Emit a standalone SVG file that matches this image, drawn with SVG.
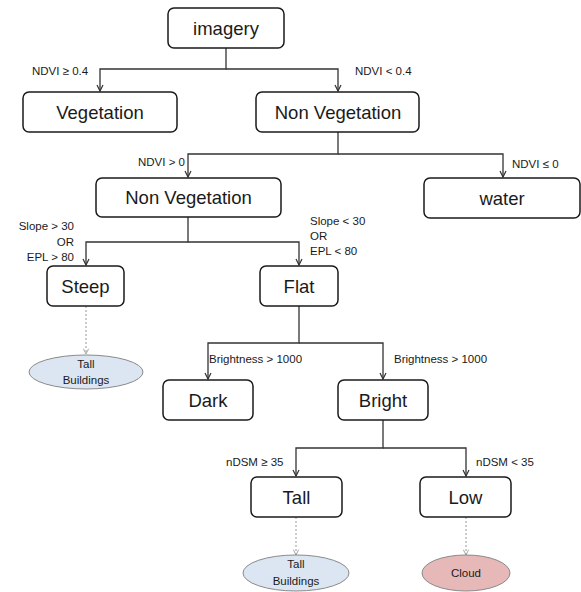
<svg xmlns="http://www.w3.org/2000/svg" width="581" height="592" viewBox="0 0 581 592">
<style>
.box{fill:#fff;stroke:#1a1a1a;stroke-width:1.5}
.bt{font-family:"Liberation Sans",Arial,sans-serif;font-size:18.5px;fill:#1a1a1a;text-anchor:middle}
.lb{font-family:"Liberation Sans",Arial,sans-serif;font-size:11.5px;fill:#1a1a1a}
.et{font-family:"Liberation Sans",Arial,sans-serif;font-size:11.5px;fill:#1a1a1a;text-anchor:middle}
.c{fill:none;stroke:#333;stroke-width:1.3}
.d{fill:none;stroke:#999;stroke-width:1;stroke-dasharray:2,2}
.ell{stroke:#8a8a8a;stroke-width:1}
</style>
<defs>
<marker id="a" viewBox="0 0 8 8" refX="7" refY="4" markerWidth="8" markerHeight="8" markerUnits="userSpaceOnUse" orient="auto">
<path d="M1,1 L7,4 L1,7" fill="none" stroke="#333" stroke-width="1.2"/>
</marker>
<marker id="ag" viewBox="0 0 8 8" refX="7" refY="4" markerWidth="7" markerHeight="7" markerUnits="userSpaceOnUse" orient="auto">
<path d="M1,1 L7,4 L1,7" fill="none" stroke="#999" stroke-width="1"/>
</marker>
</defs>
<g id="connectors">
<path class="c" d="M226,48 V69 H100 V91" marker-end="url(#a)"/>
<path class="c" d="M226,69 H338 V91" marker-end="url(#a)"/>
<path class="c" d="M338,132 V154 H188 V177" marker-end="url(#a)"/>
<path class="c" d="M338,154 H503 V177" marker-end="url(#a)"/>
<path class="c" d="M188,217 V242 H86 V265" marker-end="url(#a)"/>
<path class="c" d="M188,242 H299 V265" marker-end="url(#a)"/>
<path class="c" d="M299,306 V343 H208 V379" marker-end="url(#a)"/>
<path class="c" d="M299,343 H383 V379" marker-end="url(#a)"/>
<path class="c" d="M383,420 V448 H296 V476" marker-end="url(#a)"/>
<path class="c" d="M383,448 H466 V476" marker-end="url(#a)"/>
<path class="d" d="M86,306 V354" marker-end="url(#ag)"/>
<path class="d" d="M296,517 V555" marker-end="url(#ag)"/>
<path class="d" d="M466,517 V555" marker-end="url(#ag)"/>
</g>
<g id="labels">
<text class="lb" x="32" y="75">NDVI ≥ 0.4</text>
<text class="lb" x="355" y="75">NDVI &lt; 0.4</text>
<text class="lb" x="138" y="166">NDVI &gt; 0</text>
<text class="lb" x="512" y="168">NDVI ≤ 0</text>
<text class="lb" x="74" y="230" text-anchor="end">Slope &gt; 30</text>
<text class="lb" x="74" y="246" text-anchor="end">OR</text>
<text class="lb" x="74" y="261" text-anchor="end">EPL &gt; 80</text>
<text class="lb" x="310" y="225">Slope &lt; 30</text>
<text class="lb" x="310" y="240">OR</text>
<text class="lb" x="310" y="255">EPL &lt; 80</text>
<text class="lb" x="209" y="363">Brightness &gt; 1000</text>
<text class="lb" x="394" y="363">Brightness &gt; 1000</text>
<text class="lb" x="226" y="466">nDSM ≥ 35</text>
<text class="lb" x="476" y="466">nDSM &lt; 35</text>
</g>
<g id="imagery"><rect class="box" x="168" y="8" width="116" height="40" rx="6"/><text class="bt" x="226" y="35">imagery</text></g>
<g id="vegetation"><rect class="box" x="23" y="92" width="154" height="40" rx="6"/><text class="bt" x="100" y="118.5">Vegetation</text></g>
<g id="nonveg1"><rect class="box" x="256" y="92" width="163" height="40" rx="6"/><text class="bt" x="338" y="118.5">Non Vegetation</text></g>
<g id="nonveg2"><rect class="box" x="96" y="178" width="185" height="39" rx="6"/><text class="bt" x="188.5" y="204">Non Vegetation</text></g>
<g id="water"><rect class="box" x="424" y="178" width="156" height="40" rx="6"/><text class="bt" x="502" y="204.5">water</text></g>
<g id="steep"><rect class="box" x="47" y="266" width="77" height="40" rx="6"/><text class="bt" x="85.5" y="292.5">Steep</text></g>
<g id="flat"><rect class="box" x="260" y="266" width="78" height="40" rx="6"/><text class="bt" x="299" y="292.5">Flat</text></g>
<g id="tallbuildings1"><ellipse class="ell" cx="86" cy="372" rx="57" ry="17" fill="#dce6f2"/><text class="et" x="86" y="368">Tall</text><text class="et" x="86" y="384">Buildings</text></g>
<g id="dark"><rect class="box" x="163" y="380" width="90" height="40" rx="6"/><text class="bt" x="208" y="406.5">Dark</text></g>
<g id="bright"><rect class="box" x="338" y="380" width="90" height="40" rx="6"/><text class="bt" x="383" y="406.5">Bright</text></g>
<g id="tall"><rect class="box" x="251" y="477" width="91" height="40" rx="6"/><text class="bt" x="296.5" y="503.5">Tall</text></g>
<g id="low"><rect class="box" x="420" y="477" width="91" height="40" rx="6"/><text class="bt" x="465.5" y="503.5">Low</text></g>
<g id="tallbuildings2"><ellipse class="ell" cx="296" cy="573" rx="53" ry="18" fill="#dce6f2"/><text class="et" x="296" y="568">Tall</text><text class="et" x="296" y="585">Buildings</text></g>
<g id="cloud"><ellipse class="ell" cx="466" cy="573" rx="44" ry="18" fill="#e6b9b8"/><text class="et" x="466" y="577">Cloud</text></g>
</svg>
